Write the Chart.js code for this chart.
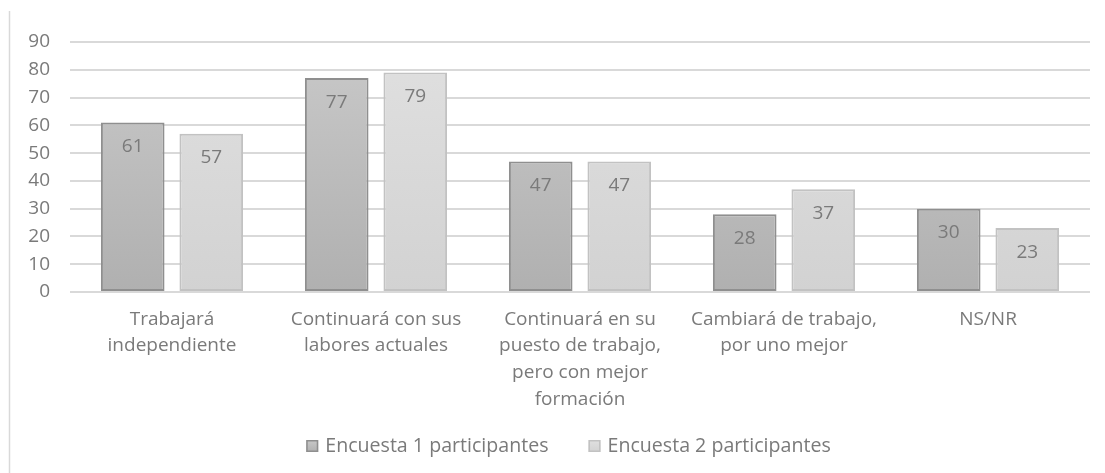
<!DOCTYPE html>
<html>
<head>
<meta charset="utf-8">
<script src="https://cdn.jsdelivr.net/npm/chart.js@4/dist/chart.umd.min.js"></script>
<style>
html,body{margin:0;padding:0;background:#fff;}
#wrap{position:absolute;left:0;top:0;width:1105px;height:473px;}
</style>
</head>
<body>
<div id="wrap"><canvas id="c" width="1105" height="473"></canvas></div>
<script>
const categories = [
  ["Trabajará", "independiente"],
  ["Continuará con sus", "labores actuales"],
  ["Continuará en su", "puesto de trabajo,", "pero con mejor", "formación"],
  ["Cambiará de trabajo,", "por uno mejor"],
  ["NS/NR"]
];
const seriesNames = ["Encuesta 1 participantes", "Encuesta 2 participantes"];
const encuesta1 = [61, 77, 47, 28, 30];
const encuesta2 = [57, 79, 47, 37, 23];
const yTicks = [0, 10, 20, 30, 40, 50, 60, 70, 80, 90];

const FONT = "'Open Sans', 'Noto Sans', sans-serif";
const TEXT = "#7a7a7a";
const FS = 19;

const colors = [
  { top: '#c9c9c9', bottom: '#b0b0b0', border: '#8f8f8f' },
  { top: '#e0e0e0', bottom: '#d2d2d2', border: '#c2c2c2' }
];

function grad(ctx, c) {
  const chart = ctx.chart;
  const area = chart.chartArea;
  if (!area) return c.top;
  const g = chart.ctx.createLinearGradient(0, area.top, 0, area.bottom);
  g.addColorStop(0, c.top);
  g.addColorStop(1, c.bottom);
  return g;
}

const valueLabels = {
  id: 'valueLabels',
  afterDatasetsDraw(chart) {
    const ctx = chart.ctx;
    ctx.save();
    ctx.font = FS + "px " + FONT;
    ctx.fillStyle = TEXT;
    ctx.textAlign = "center";
    ctx.textBaseline = "middle";
    chart.data.datasets.forEach((ds, i) => {
      const meta = chart.getDatasetMeta(i);
      meta.data.forEach((bar, j) => {
        ctx.fillText(String(ds.data[j]), bar.x, bar.y + 24);
      });
    });
    ctx.restore();
  }
};

const frame = {
  id: 'frame',
  beforeDraw(chart) {
    const ctx = chart.ctx;
    ctx.save();
    ctx.strokeStyle = "#d9d9d9";
    ctx.lineWidth = 1.5;
    ctx.beginPath();
    ctx.moveTo(9.5, 11);
    ctx.lineTo(9.5, 473);
    ctx.stroke();
    ctx.restore();
  }
};

const customLegend = {
  id: 'customLegend',
  afterDraw(chart) {
    const ctx = chart.ctx;
    ctx.save();
    ctx.font = "19.6px " + FONT;
    ctx.textBaseline = "middle";
    ctx.textAlign = "left";
    const box = 12, gapBox = 7, gapItem = 40;
    const items = chart.data.datasets.map((ds, i) => ({ text: ds.label, c: colors[i], w: box + gapBox + ctx.measureText(ds.label).width }));
    const total = items.reduce((s, it) => s + it.w, 0) + gapItem * (items.length - 1);
    let x = 568.5 - total / 2;
    const cy = 446;
    items.forEach(it => {
      const g = ctx.createLinearGradient(0, cy - box / 2, 0, cy + box / 2);
      g.addColorStop(0, it.c.top);
      g.addColorStop(1, it.c.bottom);
      ctx.fillStyle = g;
      ctx.fillRect(x, cy - box / 2, box, box);
      ctx.strokeStyle = it.c.border;
      ctx.lineWidth = 1.5;
      ctx.strokeRect(x + 0.75, cy - box / 2 + 0.75, box - 1.5, box - 1.5);
      ctx.fillStyle = TEXT;
      ctx.fillText(it.text, x + box + gapBox, cy);
      x += it.w + gapItem;
    });
    ctx.restore();
  }
};

new Chart(document.getElementById('c'), {
  type: 'bar',
  data: {
    labels: categories,
    datasets: [
      {
        label: seriesNames[0],
        data: encuesta1,
        backgroundColor: (ctx) => grad(ctx, colors[0]),
        borderColor: colors[0].border,
        borderWidth: 2,
        borderSkipped: false,
        categoryPercentage: 0.77,
        barPercentage: 0.81
      },
      {
        label: seriesNames[1],
        data: encuesta2,
        backgroundColor: (ctx) => grad(ctx, colors[1]),
        borderColor: colors[1].border,
        borderWidth: 2,
        borderSkipped: false,
        categoryPercentage: 0.77,
        barPercentage: 0.81
      }
    ]
  },
  options: {
    responsive: false,
    animation: false,
    devicePixelRatio: 1,
    layout: { padding: { left: 10, right: 15, top: 42, bottom: 10 } },
    scales: {
      x: {
        grid: { display: false },
        border: { display: false },
        ticks: {
          color: TEXT,
          font: { family: FONT, size: FS, lineHeight: 1.4 },
          padding: 6,
          maxRotation: 0,
          autoSkip: false
        },
        afterFit(scale) { scale.height = 171; }
      },
      y: {
        min: 0,
        max: 90,
        afterBuildTicks(scale) { scale.ticks = yTicks.map(v => ({ value: v })); },
        grid: { color: '#d9d9d9', lineWidth: 2, drawTicks: false },
        border: { display: false },
        ticks: {
          color: TEXT,
          font: { family: FONT, size: FS },
          padding: 20
        },
        afterFit(scale) { scale.width = 60; }
      }
    },
    plugins: {
      legend: { display: false },
      tooltip: { enabled: false }
    }
  },
  plugins: [valueLabels, frame, customLegend]
});
</script>
</body>
</html>
